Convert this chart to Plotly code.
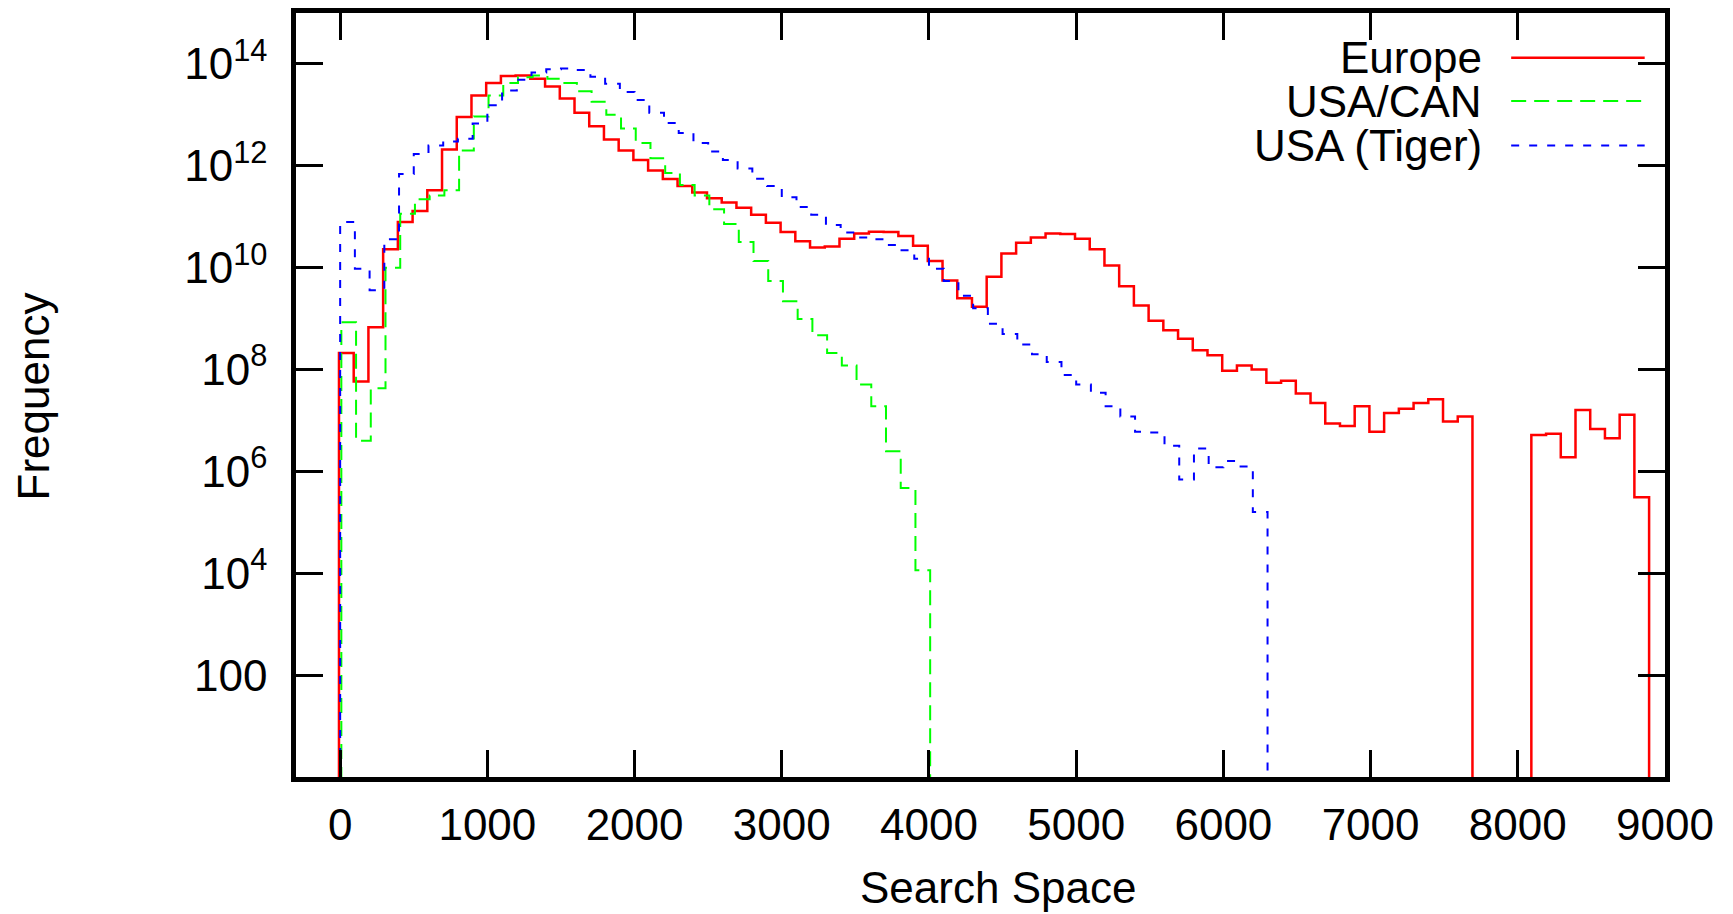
import plotly.graph_objects as go

# ---------------- data (frequency per search-space bin of width 100, bins start at 0) ----------------
bin_width = 100

europe = [2.1e8, 5.8e7, 6.8e8, 2.3e10, 7.9e10, 1.3e11, 3.3e11, 2.1e12, 9.1e12, 2.4e13,
          4.2e13, 5.8e13, 5.9e13, 5.1e13, 3.6e13, 2.1e13, 1.1e13, 6.0e12, 3.3e12, 2.0e12,
          1.3e12, 8.1e11, 5.5e11, 4.0e11, 3.0e11, 2.3e11, 1.9e11, 1.5e11, 1.1e11, 7.6e10,
          5.0e10, 3.3e10, 2.5e10, 2.6e10, 3.7e10, 4.7e10, 5.1e10, 5.0e10, 4.2e10, 2.7e10,
          1.35e10, 5.6e9, 2.5e9, 1.7e9, 6.6e9, 1.9e10, 3.1e10, 3.9e10, 4.7e10, 4.6e10,
          3.7e10, 2.3e10, 1.1e10, 4.3e9, 1.8e9, 9.1e8, 5.9e8, 4.0e8, 2.4e8, 1.9e8,
          9.5e7, 1.2e8, 1.0e8, 5.5e7, 6.0e7, 3.4e7, 2.2e7, 8.7e6, 7.8e6, 1.9e7,
          6.0e6, 1.4e7, 1.7e7, 2.2e7, 2.6e7, 9.5e6, 1.2e7, 0, 0, 0,
          0, 5.2e6, 5.5e6, 1.9e6, 1.6e7, 6.8e6, 4.5e6, 1.3e7, 3.1e5]

usa_can = [8.5e8, 4.0e6, 4.3e7, 1.0e10, 1.15e11, 2.2e11, 2.6e11, 3.3e11, 2.0e12, 9.3e12,
           2.4e13, 4.2e13, 5.5e13, 5.9e13, 5.1e13, 4.2e13, 2.9e13, 1.8e13, 1.0e13, 5.4e12,
           2.8e12, 1.4e12, 7.2e11, 4.2e11, 2.6e11, 1.4e11, 7.2e10, 3.2e10, 1.35e10, 5.5e9,
           2.2e9, 9.8e8, 4.7e8, 2.1e8, 1.2e8, 5.1e7, 1.9e7, 2.5e6, 4.7e5, 1.15e4]

usa_tiger = [7.9e10, 9.5e9, 3.6e9, 3.6e10, 6.9e11, 1.7e12, 2.5e12, 3.0e12, 3.4e12, 6.8e12,
             1.55e13, 3.0e13, 4.9e13, 6.8e13, 7.9e13, 8.1e13, 7.6e13, 5.6e13, 4.1e13, 2.8e13,
             1.95e13, 1.1e13, 6.9e12, 4.4e12, 2.8e12, 1.9e12, 1.3e12, 8.9e11, 5.6e11, 4.0e11,
             2.4e11, 1.55e11, 1.1e11, 6.9e10, 4.9e10, 3.9e10, 3.6e10, 2.8e10, 2.2e10, 1.5e10,
             9.5e9, 5.5e9, 2.8e9, 1.6e9, 7.9e8, 5.0e8, 3.1e8, 2.0e8, 1.4e8, 7.8e7,
             5.1e7, 3.5e7, 1.9e7, 1.2e7, 6.0e6, 5.8e6, 3.2e6, 6.9e5, 2.8e6, 1.2e6,
             1.6e6, 1.25e6, 1.6e5]

series_names = ["Europe", "USA/CAN", "USA (Tiger)"]
x_tick_values = [0, 1000, 2000, 3000, 4000, 5000, 6000, 7000, 8000, 9000]
y_tick_values = [1e2, 1e4, 1e6, 1e8, 1e10, 1e12, 1e14]
y_tick_labels = ["100", "10<sup>4</sup>", "10<sup>6</sup>", "10<sup>8</sup>",
                 "10<sup>10</sup>", "10<sup>12</sup>", "10<sup>14</sup>"]

# ---------------- style / layout ----------------
W, H = 1733, 914
OFF = 8                                   # page body margin of the html page
PL, PR, PT, PB = 296, 1665, 8, 777        # plot area in page px
X_RANGE = [-300, 9000]
Y_LOG_RANGE = [0, 15]
FONT = "Liberation Sans, Arial, Helvetica, sans-serif"
FS = 44
styles = [
    dict(color="#ff0000", dash="solid", shift=-8, width=2.5),
    dict(color="#00ff00", dash="15px,8px", shift=8, width=2),
    dict(color="#0000ff", dash="8px,10px", shift=0, width=2),
]
floor_value = 1e-1  # below the axis range: empty bins are drawn down to the bottom

# legend placement (in axis units, converted to paper fractions below)
legend_text_right = 7770
legend_line_x = (7955, 8862)
legend_rows_log = [14.12, 13.27, 12.40]


def step_xy(values, shift):
    xs = [shift + i * bin_width for i in range(len(values))]
    ys = [v if v > 0 else floor_value for v in values]
    x = [xs[0]] + xs + [xs[-1] + bin_width]
    y = [floor_value] + ys + [floor_value]
    return x, y


def fx(xv):
    return (xv - X_RANGE[0]) / (X_RANGE[1] - X_RANGE[0])


def fy(lv):
    return (lv - Y_LOG_RANGE[0]) / (Y_LOG_RANGE[1] - Y_LOG_RANGE[0])


def px_x(p):
    return (p - PL) / (PR - PL)


def px_y(p):
    return (PB - p) / (PB - PT)


fig = go.Figure()
for name, vals, st in zip(series_names, [europe, usa_can, usa_tiger], styles):
    x, y = step_xy(vals, st["shift"])
    fig.add_trace(go.Scatter(x=x, y=y, mode="lines", name=name, line_shape="hv",
                             line=dict(color=st["color"], width=st["width"], dash=st["dash"]),
                             showlegend=False))

# manual gnuplot-style legend (text right-aligned, sample line on the right)
for name, st, lv in zip(series_names, styles, legend_rows_log):
    fig.add_annotation(x=fx(legend_text_right), y=fy(lv), xref="paper", yref="paper",
                       text=name, showarrow=False, xanchor="right", yanchor="middle",
                       font=dict(family=FONT, size=FS, color="black"))
    fig.add_shape(type="line", xref="paper", yref="paper",
                  x0=fx(legend_line_x[0]), x1=fx(legend_line_x[1]), y0=fy(lv), y1=fy(lv),
                  line=dict(color=st["color"], width=st["width"], dash=st["dash"]))

# axis titles
fig.add_annotation(x=px_x(998), y=px_y(888), xref="paper", yref="paper",
                   text="Search Space", showarrow=False, xanchor="center", yanchor="middle",
                   font=dict(family=FONT, size=FS, color="black"))
fig.add_annotation(x=px_x(33), y=px_y(394), xref="paper", yref="paper",
                   text="Frequency", showarrow=False, textangle=-90,
                   xanchor="center", yanchor="middle",
                   font=dict(family=FONT, size=FS, color="black"))

axis_common = dict(showline=True, linecolor="black", linewidth=4.5, mirror="ticks",
                   ticks="inside", ticklen=27, tickwidth=3, tickcolor="black",
                   showgrid=False, zeroline=False,
                   tickfont=dict(family=FONT, size=FS, color="black"))

fig.update_xaxes(range=X_RANGE, tickmode="array", tickvals=x_tick_values,
                 ticktext=[str(v) for v in x_tick_values], ticklabelstandoff=5,
                 **axis_common)
fig.update_yaxes(type="log", range=Y_LOG_RANGE, tickmode="array", tickvals=y_tick_values,
                 ticktext=y_tick_labels, ticklabelstandoff=15, **axis_common)

fig.update_layout(width=W, height=H, autosize=False,
                  margin=dict(l=PL - OFF, r=W - (PR - OFF), t=PT - OFF, b=H - (PB - OFF), pad=0),
                  paper_bgcolor="white", plot_bgcolor="white",
                  font=dict(family=FONT, size=FS, color="black"))

fig.write_html("out.html")
